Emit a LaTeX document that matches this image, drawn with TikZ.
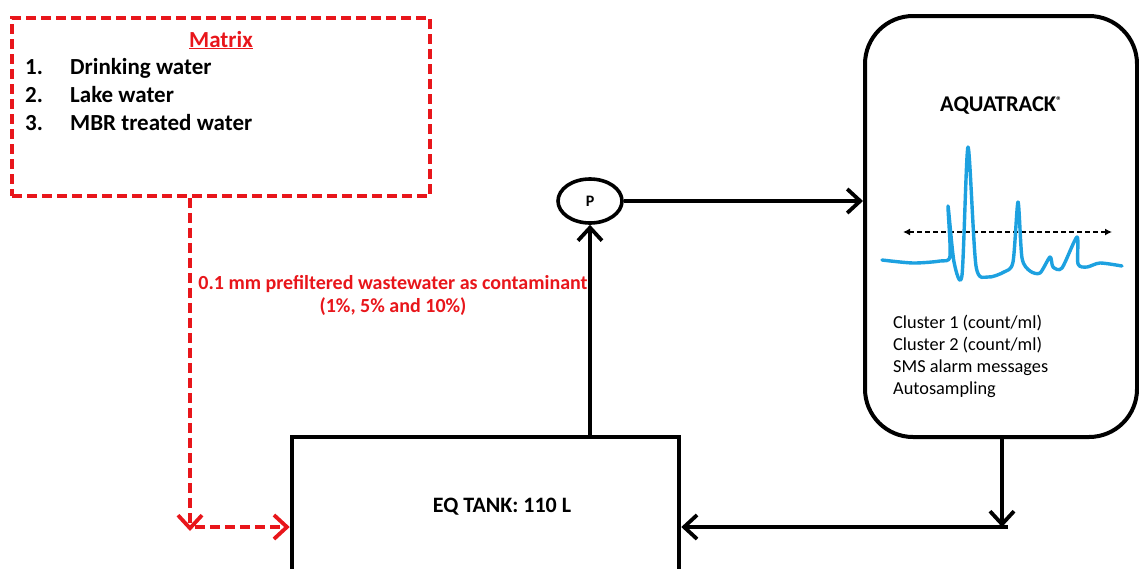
\documentclass[tikz,border=0pt]{standalone}
\usepackage{fontspec}
\setmainfont{Carlito}
\usepackage{xcolor}
\usepackage{tikz}
\usetikzlibrary{arrows.meta,positioning,calc,shapes.geometric}
\definecolor{flowred}{HTML}{E8161B}
\definecolor{peakblue}{HTML}{1DA1E0}
\definecolor{ink}{HTML}{000000}

\begin{document}
\begin{tikzpicture}[
  x=1pt, y=-1pt,
  unit/.style={draw=ink, line width=4.5pt, fill=white, inner sep=0pt},
  sourcebox/.style={draw=flowred, line width=3.6pt, dash pattern=on 10pt off 5pt,
    minimum width=418pt, minimum height=178pt, inner sep=0pt},
  pumpnode/.style={ellipse, draw=ink, line width=3.6pt, minimum width=64pt,
    minimum height=44pt, inner sep=0pt, font=\fontsize{16}{18}\selectfont\bfseries},
  big/.style={font=\fontsize{23}{28}\selectfont\bfseries, inner sep=0pt},
  redlbl/.style={font=\fontsize{20}{23}\selectfont\bfseries, text=flowred, align=center, inner sep=0pt},
  outlbl/.style={font=\fontsize{18.3}{22}\selectfont, align=left, inner sep=0pt},
  arr/.style={-{Straight Barb[length=13pt, width=24pt]}, draw=ink, line width=3.8pt},
  redarr/.style={-{Straight Barb[length=13pt, width=24pt]}, draw=flowred, line width=3.8pt,
    dash pattern=on 10pt off 5pt}
]
\useasboundingbox (0,0) rectangle (1139,568);

% matrix source
\node[sourcebox] (mtx) at (221,107) {};
\node[big, text=flowred, anchor=base] (mtxtitle) at (221,47) {\underline{Matrix}};
\node[big, anchor=base west] (n1) at (25,74) {1.};
\node[big, anchor=base west] (n2) at (25,102) {2.};
\node[big, anchor=base west] (n3) at (25,130) {3.};
\node[big, anchor=base west] (w1) at (70,74) {Drinking water};
\node[big, anchor=base west] (w2) at (70,102) {Lake water};
\node[big, anchor=base west] (w3) at (70,130) {MBR treated water};

% tank, pump, monitor
\begin{scope}
\clip (0,0) rectangle (1139,568);
\node[unit, minimum width=387pt, minimum height=230pt] (tank) at (485.5,552) {};
\end{scope}
\node[big, font=\fontsize{22}{28}\selectfont\bfseries, anchor=base] (tanklbl) at (502,512) {EQ TANK: 110 L};

\node[pumpnode] (pump) at (590,201) {P};

\node[unit, line width=4pt, rounded corners=48pt, minimum width=272pt, minimum height=421pt] (aqua) at (1001,226.5) {};
\node[font=\fontsize{22.5}{26}\selectfont\bfseries, anchor=base, inner sep=0pt] (aqualbl) at (1001,111)
  {AQUATRACK\raisebox{0.3em}{\fontsize{11}{12}\selectfont\textregistered}};
\node[outlbl, anchor=north west] (aquaout) at (893,315)
  {Cluster 1 (count/ml)\\Cluster 2 (count/ml)\\SMS alarm messages\\Autosampling};

% signal trace
\draw[{Latex[length=7pt, width=7pt]}-{Latex[length=7pt, width=7pt]}, line width=1.8pt,
  dash pattern=on 5pt off 3pt] (903,232) -- (1112,232);
\draw[peakblue, line width=3.4pt, line cap=round, line join=round]
  plot[smooth, tension=0.45] coordinates {
    (882,260) (913,263) (940,261) (950,256) (948,206) (954,262) (962,275)
    (968,147) (976,266) (988,277) (1004,272) (1013,262) (1018,202) (1022,258)
    (1030,271) (1040,273) (1050,257) (1053,267) (1062,268) (1077,237)
    (1078,264) (1087,267) (1100,263) (1122,266)};

\node[redlbl] (contam) at (393,295)
  {0.1 mm prefiltered wastewater as contaminant\\(1\%, 5\% and 10\%)};

% flow lines
\coordinate (redbend) at (190,527);
\coordinate (retjoin) at (1002,527);
\draw[redarr] (mtx.south -| redbend) -- ([yshift=-4pt]redbend);
\draw[redarr] ([xshift=5pt]redbend) -- (tank.west |- redbend);
\draw[arr] (tank.north -| pump) -- (pump.south);
\draw[arr] (pump.east) -- (pump.east -| aqua.west);
\draw[arr] (aqua.south -| retjoin) -- (retjoin);
\draw[arr] ([xshift=6pt]retjoin) -- (tank.east |- retjoin);

\end{tikzpicture}
\end{document}
